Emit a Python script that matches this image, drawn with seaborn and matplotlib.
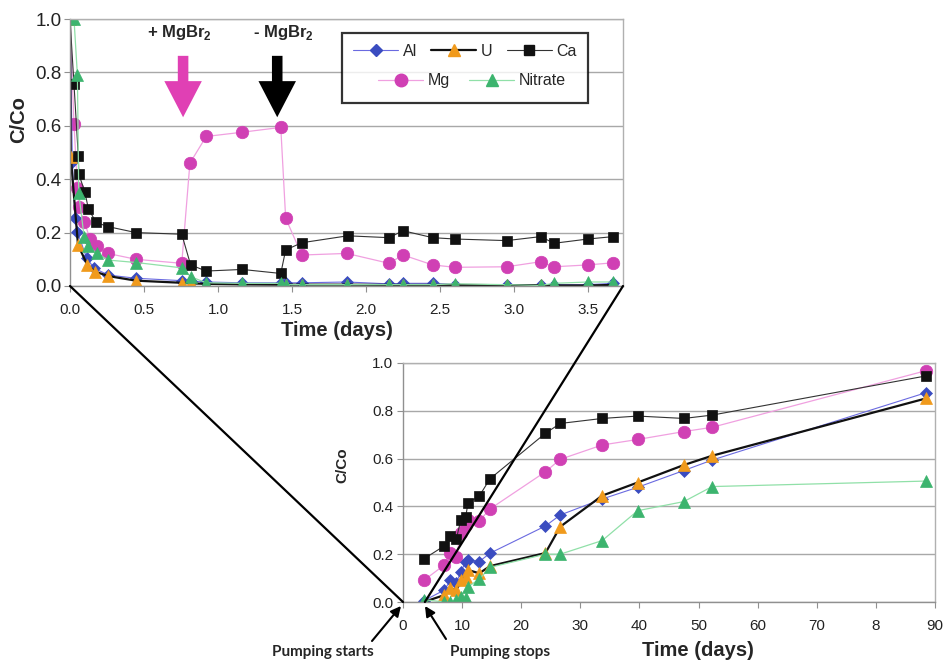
import matplotlib
matplotlib.use('Agg')
import matplotlib.pyplot as plt
import seaborn as sns
from matplotlib.lines import Line2D
from matplotlib.patches import ConnectionPatch, FancyArrowPatch

# ---------------- data ----------------
# Inset (first days)
al_t_in = [0.0, 0.016, 0.034, 0.05, 0.113, 0.165, 0.26, 0.446, 0.755, 0.815, 0.92, 1.164, 1.424, 1.457,
           1.566, 1.87, 2.155, 2.25, 2.45, 2.60, 2.95, 3.18, 3.27, 3.50, 3.67]
al_in = [1.0, 0.463, 0.254, 0.203, 0.104, 0.066, 0.041, 0.029, 0.02, 0.018, 0.015, 0.012, 0.012, 0.012,
         0.012, 0.015, 0.008, 0.01, 0.01, 0.005, 0.005, 0.005, 0.005, 0.005, 0.01]

u_t_in = [0.0, 0.005, 0.054, 0.117, 0.169, 0.26, 0.446, 0.755, 0.815, 0.92, 1.164, 1.424, 1.457, 1.566,
          1.87, 2.155, 2.25, 2.45, 2.60, 2.95, 3.18, 3.27, 3.50, 3.67]
u_in = [1.0, 0.485, 0.154, 0.079, 0.054, 0.037, 0.02, 0.012, 0.01, 0.008, 0.006, 0.005, 0.005, 0.005,
        0.005, 0.004, 0.004, 0.004, 0.004, 0.003, 0.003, 0.002, 0.002, 0.004]

ca_t_in = [0.0, 0.027, 0.056, 0.06, 0.10, 0.124, 0.176, 0.26, 0.446, 0.755, 0.815, 0.92, 1.164, 1.424,
           1.457, 1.566, 1.876, 2.155, 2.25, 2.45, 2.60, 2.95, 3.18, 3.27, 3.50, 3.67]
ca_in = [1.0, 0.755, 0.487, 0.418, 0.353, 0.29, 0.238, 0.222, 0.20, 0.194, 0.079, 0.056, 0.062, 0.047,
         0.135, 0.162, 0.188, 0.181, 0.207, 0.181, 0.176, 0.17, 0.185, 0.16, 0.176, 0.185]

mg_t_in = [0.0, 0.027, 0.05, 0.06, 0.097, 0.135, 0.18, 0.255, 0.446, 0.755, 0.81, 0.92, 1.164, 1.424,
           1.457, 1.566, 1.87, 2.155, 2.25, 2.45, 2.60, 2.95, 3.18, 3.27, 3.50, 3.67]
mg_in = [1.0, 0.607, 0.367, 0.295, 0.24, 0.177, 0.15, 0.122, 0.10, 0.085, 0.46, 0.56, 0.576, 0.594,
         0.254, 0.116, 0.122, 0.085, 0.116, 0.079, 0.07, 0.072, 0.091, 0.072, 0.079, 0.087]

no3_t_in = [0.027, 0.05, 0.059, 0.095, 0.124, 0.18, 0.26, 0.446, 0.755, 0.815, 0.92, 1.164, 1.424, 1.457,
            1.566, 1.87, 2.155, 2.25, 2.45, 2.60, 2.95, 3.18, 3.27, 3.50, 3.67]
no3_in = [1.0, 0.79, 0.35, 0.185, 0.15, 0.122, 0.097, 0.088, 0.068, 0.035, 0.012, 0.01, 0.01, 0.005,
          0.005, 0.005, 0.005, 0.005, 0.005, 0.008, 0.005, 0.002, 0.01, 0.015, 0.015]

# Main chart (long term)
t_main = [3.5, 7.0, 8.0, 9.0, 9.8, 10.6, 11.0, 12.9, 14.7, 24.1, 26.6, 33.7, 39.7, 47.5, 52.3, 88.5]
al_main = [0.005, 0.05, 0.09, 0.08, 0.127, 0.169, 0.176, 0.169, 0.204, 0.318, 0.364, 0.431, 0.48, 0.55, 0.594, 0.876]
u_main = [0.0, 0.029, 0.057, 0.05, 0.092, 0.105, 0.134, 0.12, 0.15, 0.205, 0.315, 0.445, 0.5, 0.573, 0.612, 0.852]
ca_main = [0.18, 0.235, 0.277, 0.262, 0.345, 0.355, 0.415, 0.443, 0.515, 0.706, 0.747, 0.768, 0.778, 0.768, 0.782, 0.946]
mg_main = [0.09, 0.155, 0.204, 0.19, 0.287, 0.322, 0.343, 0.339, 0.389, 0.545, 0.597, 0.657, 0.68, 0.713, 0.731, 0.968]
no3_main = [0.01, 0.0, 0.0, 0.008, 0.02, 0.015, 0.064, 0.095, 0.145, 0.2, 0.2, 0.257, 0.382, 0.42, 0.483, 0.506]

series_names = ["Al", "U", "Ca", "Mg", "Nitrate"]
inset_ticks_x = [0.0, 0.5, 1.0, 1.5, 2.0, 2.5, 3.0, 3.5]
inset_ticklabels_x = ["0.0", "0.5", "1.0", "1.5", "2.0", "2.5", "3.0", "3.5"]
main_ticks_x = [0, 10, 20, 30, 40, 50, 60, 70, 80, 90]
main_ticklabels_x = ["0", "10", "20", "30", "40", "50", "60", "70", "8", "90"]
y_ticks = [0.0, 0.2, 0.4, 0.6, 0.8, 1.0]
y_ticklabels = ["0.0", "0.2", "0.4", "0.6", "0.8", "1.0"]

# ---------------- styles ----------------
styles = {
    "Al": dict(color="#6a6ae0", lw=0.8, marker="D", markerfacecolor="#3a4cc0", markeredgecolor="#3a4cc0", markersize=6.5),
    "U": dict(color="#111111", lw=1.6, marker="^", markerfacecolor="#f09a1c", markeredgecolor="#f09a1c", markersize=8),
    "Ca": dict(color="#333333", lw=0.8, marker="s", markerfacecolor="#111111", markeredgecolor="#111111", markersize=7.5),
    "Mg": dict(color="#f0a0e0", lw=0.9, marker="o", markerfacecolor="#d040b4", markeredgecolor="#d040b4", markersize=9),
    "Nitrate": dict(color="#90e0a8", lw=0.9, marker="^", markerfacecolor="#3cb46e", markeredgecolor="#3cb46e", markersize=8.5),
}

sns.set_theme(style="white")
plt.rcParams['font.family'] = ['Liberation Sans', 'DejaVu Sans']
plt.rcParams['mathtext.fontset'] = 'custom'
plt.rcParams['mathtext.rm'] = 'Liberation Sans'
plt.rcParams['mathtext.bf'] = 'Liberation Sans:bold'

fig = plt.figure(figsize=(9.46, 6.6), dpi=100)
W, H = 946.0, 660.0
ax_in = fig.add_axes([70 / W, 1 - 286 / H, (623 - 70) / W, (286 - 19) / H])
ax_m = fig.add_axes([403 / W, 1 - 602 / H, (935 - 403) / W, (602 - 363) / H])

inset_data = {"Mg": (mg_t_in, mg_in), "Al": (al_t_in, al_in), "U": (u_t_in, u_in),
              "Ca": (ca_t_in, ca_in), "Nitrate": (no3_t_in, no3_in)}
main_data = {"Mg": mg_main, "Al": al_main, "U": u_main, "Ca": ca_main, "Nitrate": no3_main}

for name in ["Mg", "Al", "U", "Ca", "Nitrate"]:
    t, v = inset_data[name]
    sns.lineplot(x=t, y=v, ax=ax_in, estimator=None, sort=False, legend=False,
                 markeredgewidth=0.5, **styles[name])
    sns.lineplot(x=t_main, y=main_data[name], ax=ax_m, estimator=None, sort=False, legend=False,
                 markeredgewidth=0.5, **styles[name])

grid_c = "#a8a8a8"
for ax in (ax_in, ax_m):
    ax.set_ylim(0, 1.0)
    ax.set_yticks(y_ticks)
    ax.set_yticklabels(y_ticklabels)
    ax.yaxis.grid(True, color=grid_c, lw=1.0)
    ax.set_axisbelow(True)
    for s in ax.spines.values():
        s.set_color("#b0b0b0")
        s.set_linewidth(1.0)
    ax.spines['left'].set_color("#909090")
    ax.spines['bottom'].set_color("#909090")
    ax.tick_params(axis='both', which='major', length=4, width=0.8, color="#909090",
                   direction='out', labelsize=11, labelcolor="#222222", pad=3,
                   bottom=True, left=True)
    ax.set_xlabel("")
    ax.set_ylabel("")

ax_in.tick_params(axis='y', labelsize=13.5, pad=2)
ax_in.tick_params(axis='x', pad=8)
ax_m.tick_params(axis='x', pad=8)

ax_in.set_xlim(0, 3.736)
ax_in.set_xticks(inset_ticks_x)
ax_in.set_xticklabels(inset_ticklabels_x)
ax_m.set_xlim(0, 90)
ax_m.set_xticks(main_ticks_x)
ax_m.set_xticklabels(main_ticklabels_x)

# axis labels
fig.text(19 / W, 1 - 120 / H, "C/Co", rotation=90, ha='center', va='center', fontsize=14.5, fontweight='bold')
fig.text(337 / W, 1 - 330 / H, "Time (days)", ha='center', va='center', fontsize=14.5, fontweight='bold')
fig.text(342 / W, 1 - 465 / H, "C/Co", rotation=90, ha='center', va='center', fontsize=11, fontweight='bold')
fig.text(698 / W, 1 - 651 / H, "Time (days)", ha='center', va='center', fontsize=14.5, fontweight='bold')

# MgBr2 annotations
ax_in.text(0.743, 0.948, r"+ MgBr$_\mathbf{2}$", ha='center', va='center', fontsize=12, fontweight='bold')
ax_in.text(1.44, 0.948, r"- MgBr$_\mathbf{2}$", ha='center', va='center', fontsize=12, fontweight='bold')
arrow_style = "simple,head_length=1.3,head_width=1.35,tail_width=0.38"
ax_in.annotate("", xy=(0.764, 0.632), xytext=(0.764, 0.862),
               arrowprops=dict(arrowstyle=arrow_style, mutation_scale=20, color="#e040b4", lw=0,
                               shrinkA=0, shrinkB=0))
ax_in.annotate("", xy=(1.40, 0.632), xytext=(1.40, 0.862),
               arrowprops=dict(arrowstyle=arrow_style, mutation_scale=20, color="#000000", lw=0,
                               shrinkA=0, shrinkB=0))

# legend: framed legend with first row + reserved second row, then second row centred
handles = {n: Line2D([], [], **styles[n]) for n in series_names}
blank = Line2D([], [], alpha=0)
leg1 = ax_in.legend([handles["Al"], blank, handles["U"], blank, handles["Ca"]],
                    ["Al", " ", "U", " ", "Ca"], ncol=3, loc='upper left',
                    bbox_to_anchor=(0.492, 0.693, 0.445, 0.255), mode='expand',
                    frameon=True, fancybox=False, fontsize=11.5, handlelength=2.8,
                    handletextpad=0.3, columnspacing=0.8, labelspacing=1.1,
                    borderpad=0.7, borderaxespad=0.0)
leg1.get_frame().set_edgecolor("black")
leg1.get_frame().set_linewidth(1.6)
ax_in.add_artist(leg1)
leg2 = ax_in.legend([handles["Mg"], handles["Nitrate"]], ["Mg", "Nitrate"], ncol=2,
                    loc='center', bbox_to_anchor=(0.727, 0.768), frameon=False,
                    fontsize=11.5, handlelength=2.8, handletextpad=0.3, columnspacing=1.2,
                    borderpad=0.0, borderaxespad=0.0)

# connector lines between inset and main chart
for xa, xb in [(0.0, 0.0), (3.736, 3.7)]:
    con = ConnectionPatch(xyA=(xa, 0.0), coordsA=ax_in.transData,
                          xyB=(xb, 0.0), coordsB=ax_m.transData,
                          color="black", lw=1.6)
    fig.add_artist(con)

# pumping annotations
fig.text(323 / W, 1 - 652 / H, "Pumping starts", ha='center', va='center', fontsize=11,
         fontweight='bold', family=['Lato', 'DejaVu Sans'])
fig.text(500 / W, 1 - 652 / H, "Pumping stops", ha='center', va='center', fontsize=11,
         fontweight='bold', family=['Lato', 'DejaVu Sans'])
fig.add_artist(FancyArrowPatch(
    posA=(372 / W, 1 - 641 / H), posB=(401 / W, 1 - 606 / H), transform=fig.transFigure,
    arrowstyle='-|>,head_length=6,head_width=3', color='black', lw=1.5, shrinkA=0, shrinkB=0))
fig.add_artist(FancyArrowPatch(
    posA=(446 / W, 1 - 639 / H), posB=(425 / W, 1 - 606 / H), transform=fig.transFigure,
    arrowstyle='-|>,head_length=6,head_width=3', color='black', lw=1.5, shrinkA=0, shrinkB=0))

fig.savefig("out.png", dpi=100, facecolor="white")
